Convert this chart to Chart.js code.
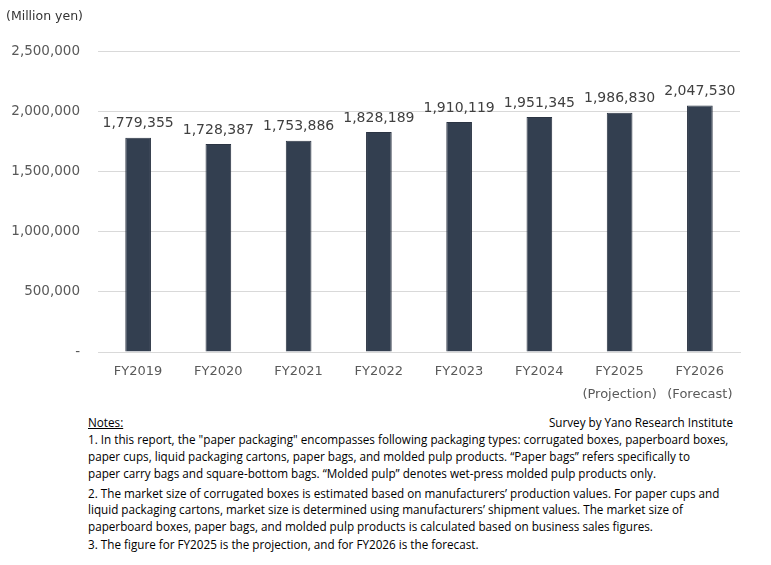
<!DOCTYPE html>
<html>
<head>
<meta charset="utf-8">
<script src="https://cdn.jsdelivr.net/npm/chart.js@4"></script>
<style>
  body { margin: 0; background: #fff; }
  #wrap { position: relative; width: 771px; height: 565px; overflow: hidden; }
  #chartBox { position: absolute; left: 0; top: 0; width: 771px; height: 405px; }
  .note { position: absolute; left: 88px; white-space: nowrap; color: #000;
          font-family: "Liberation Sans Narrow", "Open Sans", sans-serif; font-size: 11.7px; line-height: 14px; }
  .src { left: auto; right: 38px; }
</style>
</head>
<body>
<div id="wrap">
  <div id="chartBox"><canvas id="myChart"></canvas></div>
  <div class="note" style="top:415px;text-decoration:underline">Notes:</div>
  <div class="note src" style="top:415px">Survey by Yano Research Institute</div>
  <div class="note" style="top:432px">1. In this report, the "paper packaging" encompasses following packaging types: corrugated boxes, paperboard boxes,</div>
  <div class="note" style="top:449px">paper cups, liquid packaging cartons, paper bags, and molded pulp products. “Paper bags” refers specifically to</div>
  <div class="note" style="top:466px">paper carry bags and square-bottom bags. “Molded pulp” denotes wet-press molded pulp products only.</div>
  <div class="note" style="top:486px">2. The market size of corrugated boxes is estimated based on manufacturers’ production values. For paper cups and</div>
  <div class="note" style="top:502px">liquid packaging cartons, market size is determined using manufacturers’ shipment values. The market size of</div>
  <div class="note" style="top:519px">paperboard boxes, paper bags, and molded pulp products is calculated based on business sales figures.</div>
  <div class="note" style="top:537px">3. The figure for FY2025 is the projection, and for FY2026 is the forecast.</div>
</div>
<script>
const ctx = document.getElementById('myChart')

// data
const years = ['FY2019', 'FY2020', 'FY2021', 'FY2022', 'FY2023', 'FY2024', 'FY2025', 'FY2026'];
const sub_labels = ['', '', '', '', '', '', '(Projection)', '(Forecast)'];
const market_size = [1779355, 1728387, 1753886, 1828189, 1910119, 1951345, 1986830, 2047530];
const y_ticks = [0, 500000, 1000000, 1500000, 2000000, 2500000];
const unit_label = '(Million yen)';

const tickFont = { family: 'DejaVu Sans', size: 13.5 };

function fmt(v){
  return v.toLocaleString('en-US');
}

// values on top of the bars + unit text
const valueLabels = {
  id: 'valueLabels',
  afterDatasetsDraw(chart){
    const c = chart.ctx;
    c.save();
    c.font = '14px "DejaVu Sans"';
    c.fillStyle = '#404040';
    c.textAlign = 'center';
    c.textBaseline = 'bottom';
    chart.getDatasetMeta(0).data.forEach((bar, i) => {
      c.fillText(fmt(market_size[i]), bar.x, bar.y - 7);
    });
    c.font = '12.5px "DejaVu Sans"';
    c.textAlign = 'left';
    c.textBaseline = 'middle';
    c.fillStyle = '#333333';
    c.fillText(unit_label, 6, 17);
    c.restore();
  }
};

const labels = years.map((y, i) => sub_labels[i] ? [y, sub_labels[i]] : y);

c = new Chart(ctx, {
  type: 'bar',
  data: {
    labels: labels,
    datasets: [{
      data: market_size,
      backgroundColor: '#333f50',
      borderColor: '#2b3443',
      borderWidth: 1,
      barPercentage: 0.32,
      categoryPercentage: 1.0
    }]
  },
  options: {
    responsive: true,
    maintainAspectRatio: false,
    animation: false,
    layout: { padding: { top: 51, right: 31, left: 0, bottom: 0 } },
    plugins: { legend: { display: false }, tooltip: { enabled: false } },
    scales: {
      x: {
        grid: { display: false, drawTicks: false },
        border: { color: '#d9d9d9', width: 1 },
        ticks: { color: '#595959', font: { family: 'DejaVu Sans', size: 13, lineHeight: 1.75 }, padding: 8, maxRotation: 0, autoSkip: false },
        afterFit: s => { s.height = 53; }
      },
      y: {
        min: 0,
        max: 2500000,
        afterBuildTicks: s => { s.ticks = y_ticks.map(v => ({ value: v })); },
        grid: { color: '#d9d9d9', drawTicks: false },
        border: { display: false },
        ticks: {
          color: '#595959',
          font: tickFont,
          padding: 18,
          callback: v => v === 0 ? '-' : fmt(v)
        },
        afterFit: s => { s.width = 98; }
      }
    }
  },
  plugins: [valueLabels]
});
</script>
</body>
</html>
